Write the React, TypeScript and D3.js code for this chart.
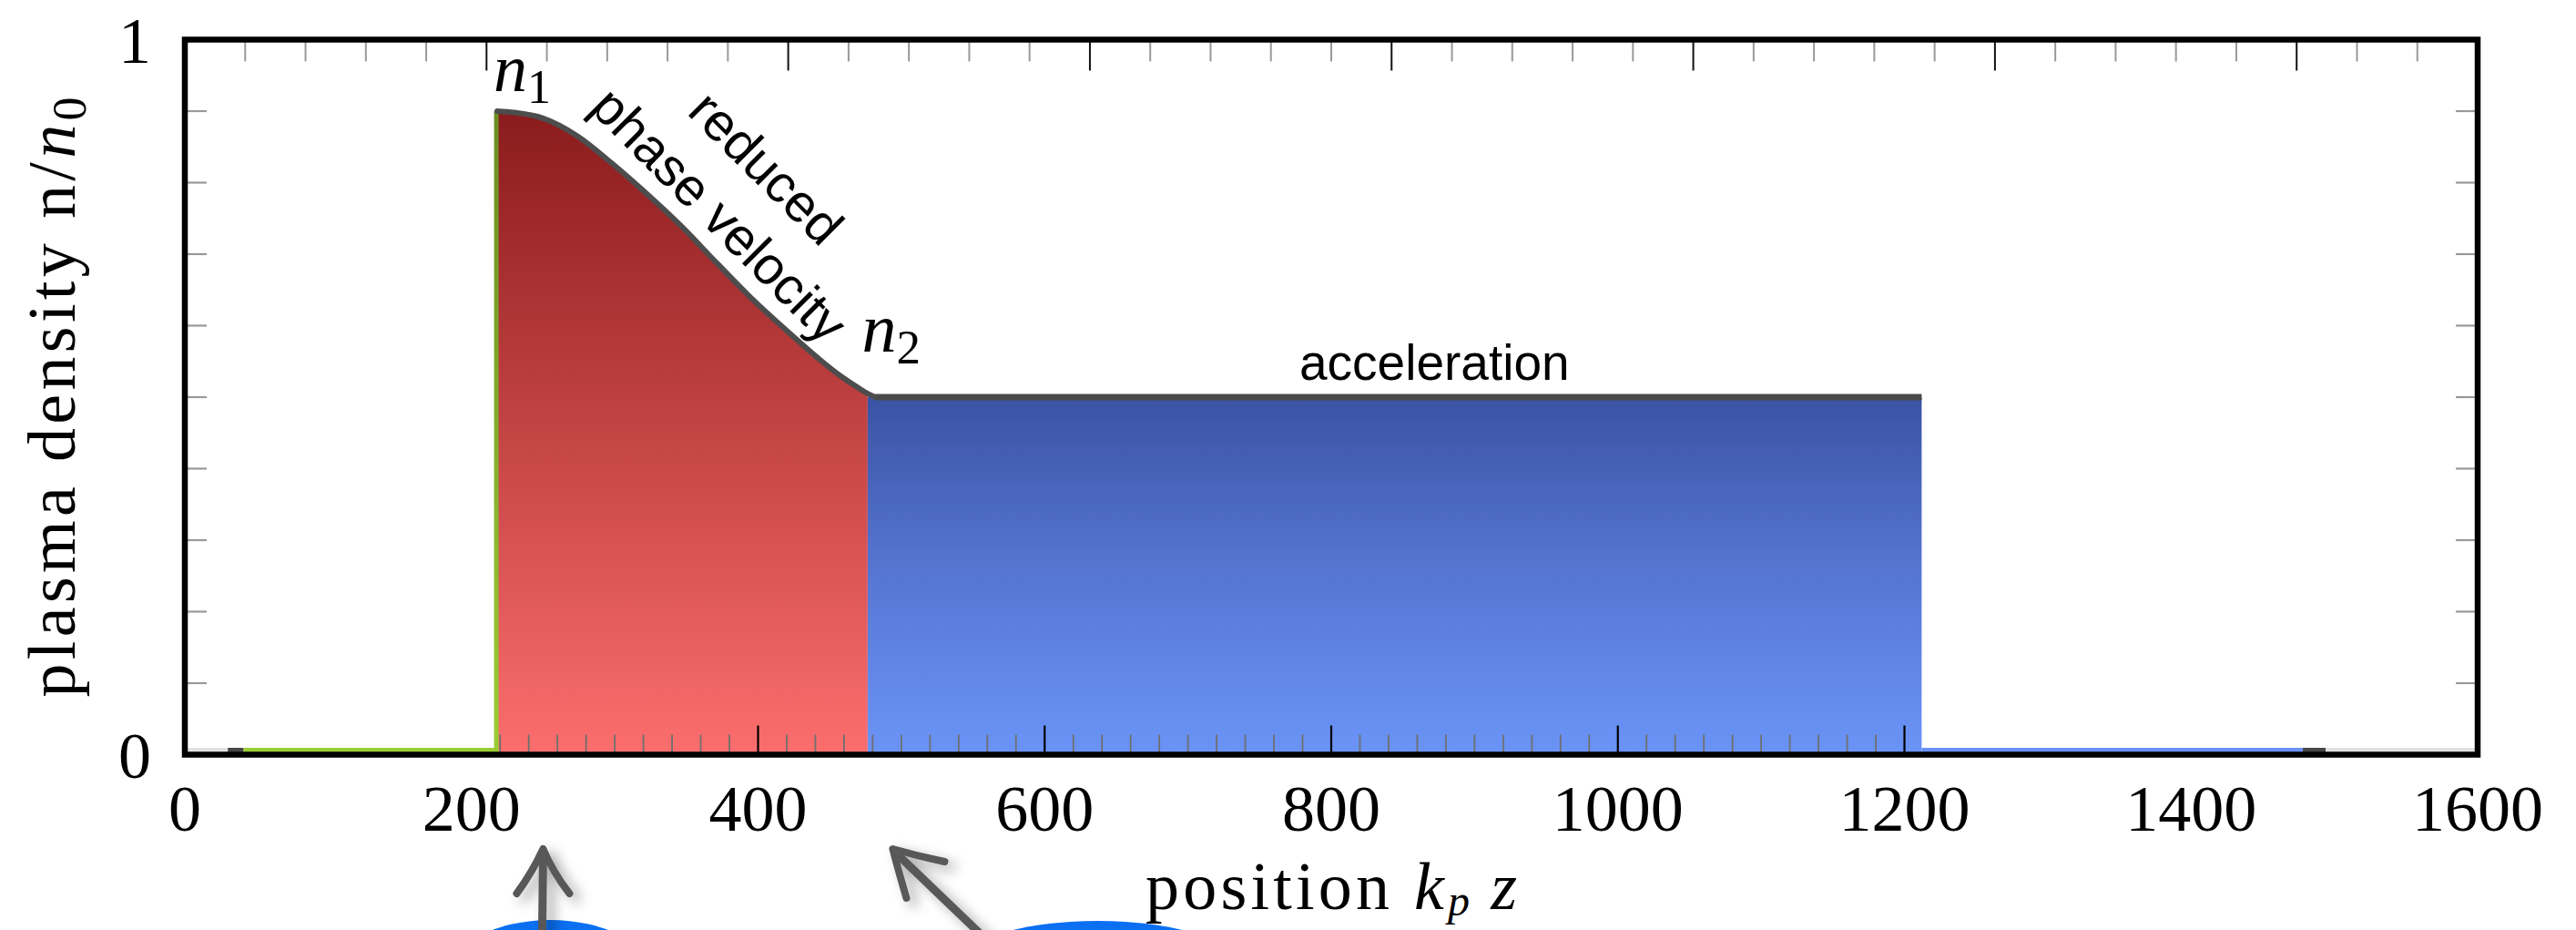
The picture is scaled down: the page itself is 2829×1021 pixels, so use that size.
import React from 'react';
import * as d3 from 'd3';

// axis values
const xTickValues = d3.range(0, 1601, 20);
const xTickLabels = [0, 200, 400, 600, 800, 1000, 1200, 1400, 1600];
const yTickLabels = [0, 1];
const yMinorTicks = [0.1, 0.2, 0.3, 0.4, 0.5, 0.6, 0.7, 0.8, 0.9];
const topTickValues = d3.range(0, 7.61, 0.2); // secondary scale on the top edge

// density profile
const stepZ = 218;          // start of the plasma (n jumps from 0 to n1)
const n1 = 0.9;
const n2 = 0.5;
const rampZ = [218, 230, 250, 274, 298, 322, 347, 371, 395, 420, 444, 458, 470, 476.5, 482];
const rampN = [0.9, 0.898, 0.89, 0.865, 0.827, 0.785, 0.738, 0.688, 0.639, 0.593, 0.551, 0.529, 0.513, 0.505, 0.5];
const plateauZ = [476.5, 1212];
const fillEndZ = 1212;

// thin baseline pieces (n = 0) outside the plasma
const leftFadeZ = [0, 32];
const leftDarkZ = [30, 41];
const leftGreenZ = [41, 218];
const rightBlueZ = [1212, 1478];
const rightDarkZ = [1478, 1494];
const rightFadeZ = [1494, 1600];

// annotations (data coords)
const phaseLabelAt = [364, 0.737];
const accelLabelZ = 872;
const arrowUpZ = 250;
const arrowDiagZ = 494;
const blobZ = [255, 637];

const serif = '"Liberation Serif", "DejaVu Serif", serif';
const sans = '"Liberation Sans", Arial, sans-serif';

export default function App() {
  const W = 2829;
  const H = 1021;
  const left = 203, right = 2721, top = 43.5, bottom = 828.5;

  const x = d3.scaleLinear().domain([0, 1600]).range([left, right]);
  const y = d3.scaleLinear().domain([0, 1]).range([bottom, top]);
  const xTop = d3.scaleLinear().domain([0, 7.6]).range([left, right]);

  const ramp = rampZ.map((z, i) => [z, rampN[i]] as [number, number]);
  const rampFill = ramp.filter((d) => d[0] <= 476.5);

  const area = d3.area<[number, number]>()
    .x((d) => x(d[0]))
    .y0(y(0))
    .y1((d) => y(d[1]))
    .curve(d3.curveMonotoneX);
  const line = d3.line<[number, number]>()
    .x((d) => x(d[0]))
    .y((d) => y(d[1]))
    .curve(d3.curveMonotoneX);

  const seg = (z: number[], color: string, key: string) => (
    <line key={key} x1={x(z[0])} x2={x(z[1])} y1={y(0) - 5} y2={y(0) - 5} stroke={color} strokeWidth={5} />
  );

  const inFill = (v: number) => v >= stepZ && v <= fillEndZ;

  const ax1 = x(arrowUpZ);
  const ax2 = x(arrowDiagZ);

  return (
    <svg width={W} height={H} style={{ position: 'absolute', left: 0, top: 0, background: '#fff' }}>
      <defs>
        <linearGradient id="redGrad" gradientUnits="userSpaceOnUse" x1={0} x2={0} y1={y(n1)} y2={y(0)}>
          <stop offset="0" stopColor="#8a1b1c" />
          <stop offset="0.5" stopColor="#c44444" />
          <stop offset="1" stopColor="#fc6e6e" />
        </linearGradient>
        <linearGradient id="blueGrad" gradientUnits="userSpaceOnUse" x1={0} x2={0} y1={y(n2)} y2={y(0)}>
          <stop offset="0" stopColor="#3a53a3" />
          <stop offset="0.45" stopColor="#5473cf" />
          <stop offset="1" stopColor="#6b94f7" />
        </linearGradient>
        <linearGradient id="greenGrad" gradientUnits="userSpaceOnUse" x1={0} x2={0} y1={y(n1)} y2={y(0)}>
          <stop offset="0" stopColor="#6b8e23" />
          <stop offset="1" stopColor="#9acd32" />
        </linearGradient>
        <filter id="shadow" x="-60%" y="-60%" width="220%" height="220%">
          <feDropShadow dx="8" dy="6" stdDeviation="7" floodColor="#000" floodOpacity="0.35" />
        </filter>
      </defs>

      {/* blue blobs below the axis, cut by the picture edge */}
      <ellipse cx={x(blobZ[0])} cy={1070} rx={110} ry={60} fill="#0b6ff2" />
      <ellipse cx={x(blobZ[1])} cy={1061} rx={155} ry={50} fill="#0b6ff2" />

      {/* fills */}
      <path d={area(rampFill) || ''} fill="url(#redGrad)" />
      <rect x={x(plateauZ[0])} y={y(n2)} width={x(plateauZ[1]) - x(plateauZ[0])} height={y(0) - y(n2)} fill="url(#blueGrad)" />

      {/* bottom ticks: full inside the plasma, stubs elsewhere */}
      {xTickValues.map((v) => {
        const major = v % 200 === 0;
        const len = inFill(v) ? (major ? 32 : 22) : 4;
        return (
          <line key={'bt' + v} x1={x(v)} x2={x(v)} y1={bottom} y2={bottom - len}
            stroke={major ? '#000' : '#6f6f6f'} strokeWidth={major ? 2.2 : 1.8} />
        );
      })}

      {/* top ticks */}
      {topTickValues.map((v) => {
        const major = Math.abs(v - Math.round(v)) < 1e-6;
        return (
          <line key={'tt' + v} x1={xTop(v)} x2={xTop(v)} y1={top} y2={top + (major ? 34 : 24)}
            stroke={major ? '#111' : '#999'} strokeWidth={2} />
        );
      })}

      {/* y minor ticks, both sides */}
      {yMinorTicks.map((v) => (
        <g key={'yt' + v}>
          <line x1={left} x2={left + 24} y1={y(v)} y2={y(v)} stroke="#999" strokeWidth={2.2} />
          <line x1={right - 24} x2={right} y1={y(v)} y2={y(v)} stroke="#999" strokeWidth={2.2} />
        </g>
      ))}

      {/* baseline at n = 0 */}
      {seg(leftFadeZ, '#e2e2e2', 'lf')}
      {seg(leftDarkZ, '#474747', 'ld')}
      {seg(leftGreenZ, '#9acd32', 'lg')}
      {seg(rightBlueZ, '#6a92f5', 'rb')}
      {seg(rightDarkZ, '#474747', 'rd')}
      {seg(rightFadeZ, '#e2e2e2', 'rf')}

      {/* step up to n1 */}
      <line x1={x(stepZ) - 1} x2={x(stepZ) - 1} y1={y(0)} y2={y(n1)} stroke="url(#greenGrad)" strokeWidth={5} />

      {/* density curve */}
      <path d={line(ramp) || ''} fill="none" stroke="#4d4d4d" strokeWidth={6} strokeLinecap="round" />
      <line x1={x(482)} x2={x(plateauZ[1])} y1={y(n2)} y2={y(n2)} stroke="#4a4a4a" strokeWidth={7} />

      {/* frame */}
      <rect x={left} y={top} width={right - left} height={bottom - top} fill="none" stroke="#000" strokeWidth={6.5} />

      {/* tick labels */}
      {xTickLabels.map((v) => (
        <text key={'xl' + v} x={x(v)} y={912} textAnchor="middle" fontFamily={serif} fontSize={72}>{v}</text>
      ))}
      {yTickLabels.map((v) => (
        <text key={'yl' + v} x={166} y={y(v) + 25} textAnchor="end" fontFamily={serif} fontSize={72}>{v}</text>
      ))}

      {/* axis labels */}
      <text x={x(800)} y={998} textAnchor="middle" fontFamily={serif} fontSize={74} textLength={408} lengthAdjust="spacing">
        position <tspan fontStyle="italic">k</tspan>
        <tspan fontStyle="italic" fontSize={48} dy={7}>p</tspan>
        <tspan dy={-7}>{'\u2009'}</tspan>
        <tspan fontStyle="italic">z</tspan>
      </text>
      <text transform={`translate(82,${(top + bottom) / 2}) rotate(-90)`} textAnchor="middle" fontFamily={serif} fontSize={74}
        textLength={659} lengthAdjust="spacing">
        plasma density n/<tspan fontStyle="italic">n</tspan>
        <tspan fontSize={52} dy={12}>0</tspan>
      </text>

      {/* n1, n2 */}
      <text x={x(stepZ) - 4} y={y(n1) - 22} fontFamily={serif} fontSize={74}>
        <tspan fontStyle="italic">n</tspan><tspan fontSize={52} dy={13}>1</tspan>
      </text>
      <text x={x(482) - 15} y={y(n2) - 50} fontFamily={serif} fontSize={76}>
        <tspan fontStyle="italic">n</tspan><tspan fontSize={53} dy={13}>2</tspan>
      </text>

      {/* region annotations */}
      <g transform={`translate(${x(phaseLabelAt[0])},${y(phaseLabelAt[1])}) rotate(45)`} fontFamily={sans} fontSize={58}>
        <text x={0} y={0} textAnchor="middle">phase velocity</text>
        <text x={0} y={-73} textAnchor="middle">reduced</text>
      </g>
      <text x={x(accelLabelZ)} y={y(n2) - 19} textAnchor="middle" fontFamily={sans} fontSize={55}>acceleration</text>

      {/* hand drawn arrows */}
      <g filter="url(#shadow)" fill="none" stroke="#595959" strokeLinecap="round" strokeLinejoin="round">
        <path d={`M${ax1 - 1},${H + 6} L${ax1},${936}`} strokeWidth={9} />
        <path d={`M${ax1 - 29},${981} Q${ax1 - 12},${958} ${ax1},${932} Q${ax1 + 11},${958} ${ax1 + 29},${981}`} strokeWidth={8} />
        <path d={`M${ax2 + 98},${H + 6} L${ax2 + 2},${935}`} strokeWidth={9} />
        <path d={`M${ax2 + 15},${986} Q${ax2 + 6},${955} ${ax2},${932} Q${ax2 + 28},${940} ${ax2 + 57},${946}`} strokeWidth={8} />
      </g>
    </svg>
  );
}
